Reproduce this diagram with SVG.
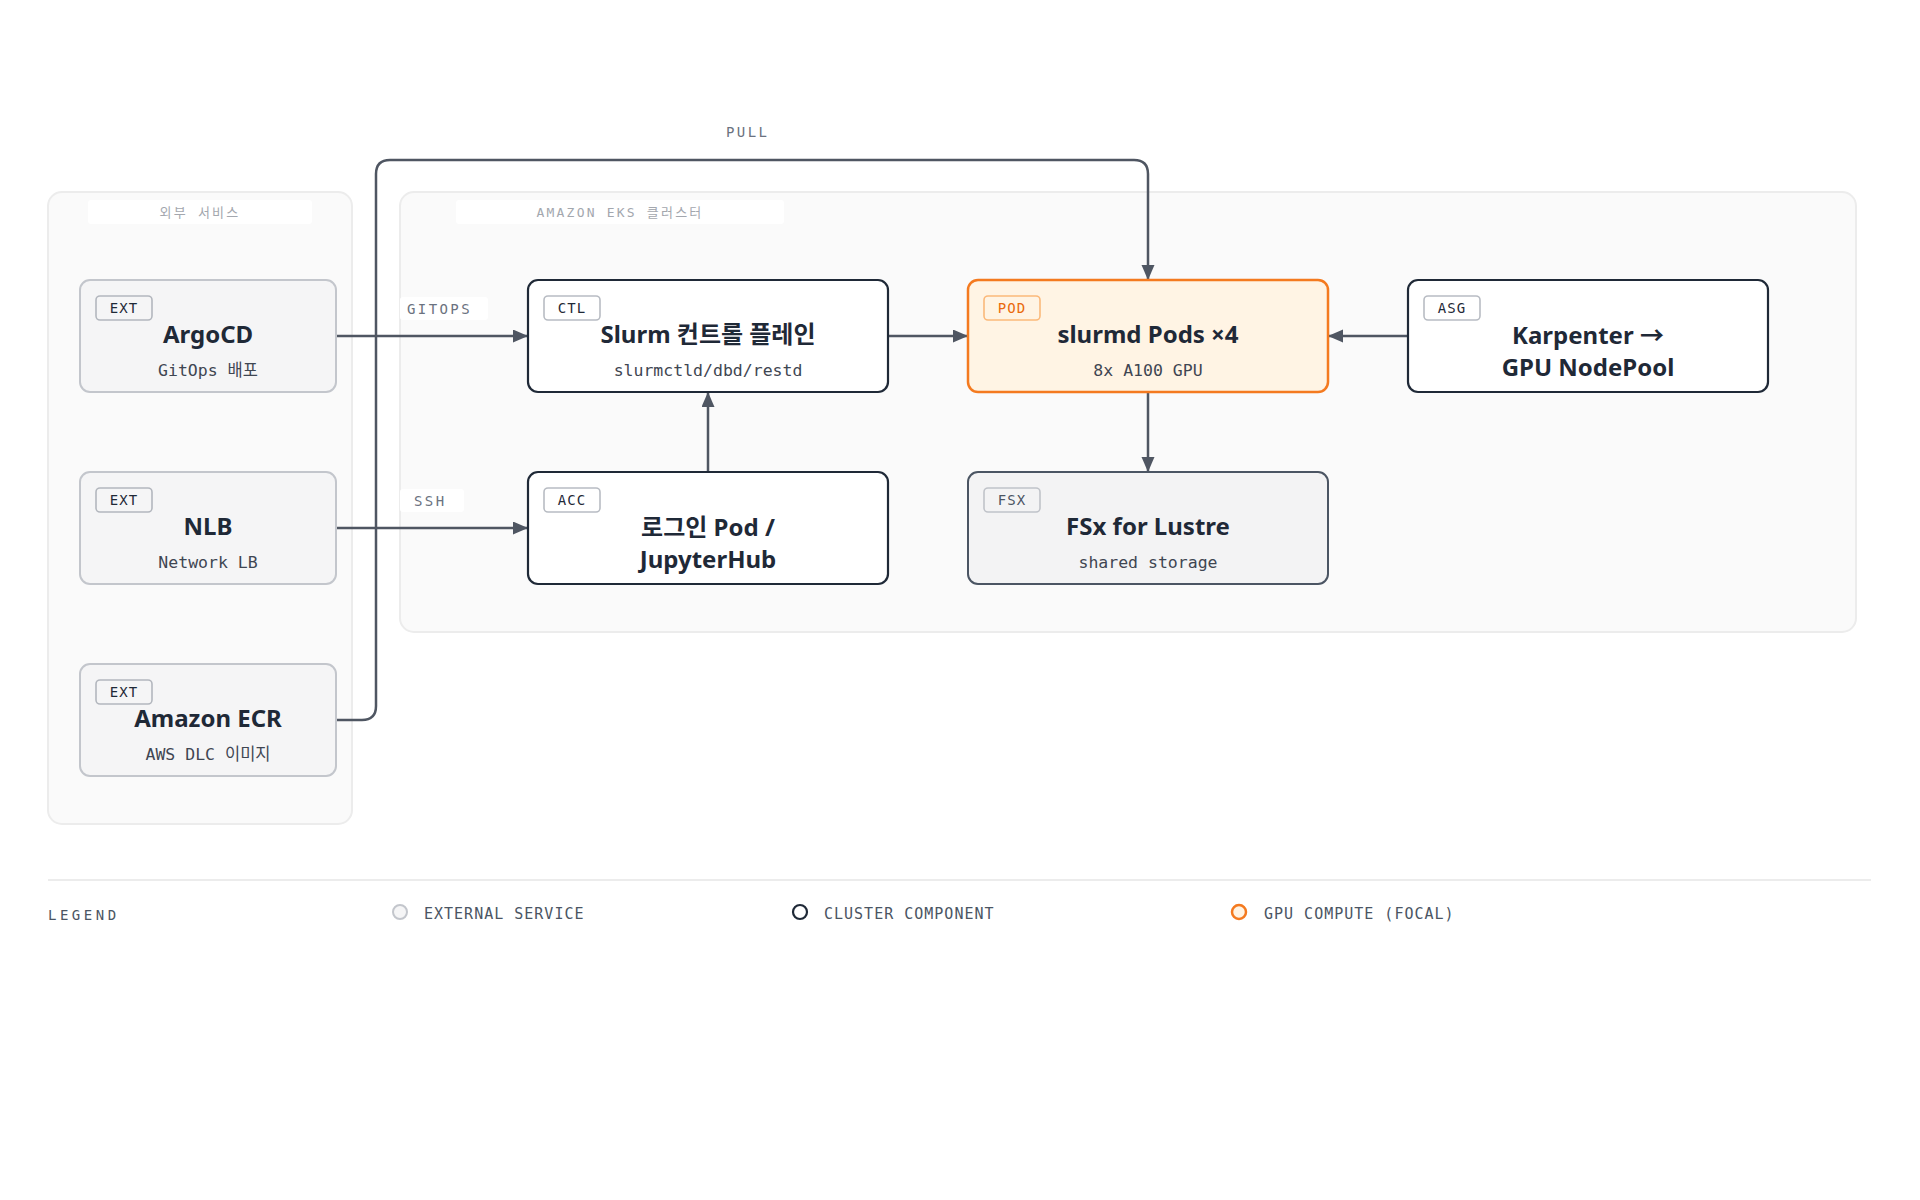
<svg xmlns="http://www.w3.org/2000/svg" width="1920" height="1200" viewBox="0 0 1920 1200">
<defs>
<style>
.grp{fill:#fafafa;stroke:#ececec;stroke-width:2}
.glbl-bg{fill:#ffffff}
.glbl{font-family:"DejaVu Sans Mono","Noto Sans CJK KR",monospace;font-size:13px;letter-spacing:2.2px;fill:#a3a7ae;text-anchor:middle}
.ext{fill:#f5f5f6;stroke:#c3c6cc;stroke-width:2}
.clu{fill:#ffffff;stroke:#1f2937;stroke-width:2.2}
.gpu{fill:#fff4e4;stroke:#f47a1f;stroke-width:2.5}
.fsx{fill:#f3f3f4;stroke:#4b5563;stroke-width:2}
.tag{fill:#ffffff;stroke:#b8bcc3;stroke-width:1.6}
.tag-ext{fill:#f5f5f6;stroke:#b3b7be;stroke-width:1.6}
.tag-pod{fill:#fff4e4;stroke:#fbb97a;stroke-width:1.6}
.tag-fsx{fill:#f3f3f4;stroke:#c0c3c9;stroke-width:1.6}
.tt{font-family:"DejaVu Sans Mono","Noto Sans CJK KR",monospace;font-size:14px;letter-spacing:1px;fill:#1f2937;text-anchor:middle}
.tt-pod{fill:#ea6a0c}
.tt-fsx{fill:#4b5563}
.title{font-family:"Noto Sans","Noto Sans CJK KR",sans-serif;font-size:24px;font-weight:700;fill:#1f2937;text-anchor:middle}
.sub{font-family:"DejaVu Sans Mono","Noto Sans CJK KR",monospace;font-size:16.5px;fill:#3f4652;text-anchor:middle}
.edge{fill:none;stroke:#4f5662;stroke-width:2.5}
.elbl{font-family:"DejaVu Sans Mono",monospace;font-size:14px;letter-spacing:2.4px;fill:#6b7280}
.elbl-bg{fill:#ffffff}
.leg{font-family:"DejaVu Sans Mono",monospace;font-size:15px;letter-spacing:1px;fill:#4b5563}
.legh{font-family:"DejaVu Sans Mono",monospace;font-size:14px;letter-spacing:3.5px;fill:#4b5563}
</style>
<marker id="arr" markerUnits="userSpaceOnUse" markerWidth="16" markerHeight="14" refX="15" refY="6.5" orient="auto">
<path d="M0,0 L15,6.5 L0,13 z" fill="#4f5662"/>
</marker>
</defs>
<rect width="1920" height="1200" fill="#ffffff"/>

<g id="group-external">
<rect class="grp" x="48" y="192" width="304" height="632" rx="14"/>
<rect class="glbl-bg" x="88" y="200" width="224" height="24" rx="3"/>
<text class="glbl" x="200" y="217">외부 서비스</text>
</g>
<g id="group-eks">
<rect class="grp" x="400" y="192" width="1456" height="440" rx="14"/>
<rect class="glbl-bg" x="456" y="200" width="328" height="24" rx="3"/>
<text class="glbl" x="620" y="217">AMAZON EKS 클러스터</text>
</g>

<g id="connectors">
<path class="edge" d="M336,336 L528,336" marker-end="url(#arr)"/>
<path class="edge" d="M336,528 L528,528" marker-end="url(#arr)"/>
<path class="edge" d="M336,720 L362,720 Q376,720 376,706 L376,174 Q376,160 390,160 L1134,160 Q1148,160 1148,174 L1148,280" marker-end="url(#arr)"/>
<path class="edge" d="M888,336 L968,336" marker-end="url(#arr)"/>
<path class="edge" d="M1408,336 L1328,336" marker-end="url(#arr)"/>
<path class="edge" d="M708,472 L708,392" marker-end="url(#arr)"/>
<path class="edge" d="M1148,392 L1148,472" marker-end="url(#arr)"/>
<rect class="elbl-bg" x="400" y="297" width="88" height="23" rx="3"/>
<text class="elbl" x="407" y="314">GITOPS</text>
<rect class="elbl-bg" x="400" y="489" width="64" height="23" rx="3"/>
<text class="elbl" x="414" y="506">SSH</text>
<text class="elbl" x="726" y="137">PULL</text>
</g>

<g id="node-argocd">
<rect class="ext" x="80" y="280" width="256" height="112" rx="10"/>
<rect class="tag-ext" x="96" y="296" width="56" height="24" rx="4"/>
<text class="tt" x="124" y="313">EXT</text>
<text class="title" x="208" y="343">ArgoCD</text>
<text class="sub" x="208" y="376">GitOps 배포</text>
</g>
<g id="node-nlb">
<rect class="ext" x="80" y="472" width="256" height="112" rx="10"/>
<rect class="tag-ext" x="96" y="488" width="56" height="24" rx="4"/>
<text class="tt" x="124" y="505">EXT</text>
<text class="title" x="208" y="535">NLB</text>
<text class="sub" x="208" y="568">Network LB</text>
</g>
<g id="node-ecr">
<rect class="ext" x="80" y="664" width="256" height="112" rx="10"/>
<rect class="tag-ext" x="96" y="680" width="56" height="24" rx="4"/>
<text class="tt" x="124" y="697">EXT</text>
<text class="title" x="208" y="727">Amazon ECR</text>
<text class="sub" x="208" y="760">AWS DLC 이미지</text>
</g>
<g id="node-slurm-ctl">
<rect class="clu" x="528" y="280" width="360" height="112" rx="10"/>
<rect class="tag" x="544" y="296" width="56" height="24" rx="4"/>
<text class="tt" x="572" y="313">CTL</text>
<text class="title" x="708" y="343">Slurm 컨트롤 플레인</text>
<text class="sub" x="708" y="376">slurmctld/dbd/restd</text>
</g>
<g id="node-slurmd">
<rect class="gpu" x="968" y="280" width="360" height="112" rx="10"/>
<rect class="tag-pod" x="984" y="296" width="56" height="24" rx="4"/>
<text class="tt tt-pod" x="1012" y="313">POD</text>
<text class="title" x="1148" y="343">slurmd Pods ×4</text>
<text class="sub" x="1148" y="376">8x A100 GPU</text>
</g>
<g id="node-karpenter">
<rect class="clu" x="1408" y="280" width="360" height="112" rx="10"/>
<rect class="tag" x="1424" y="296" width="56" height="24" rx="4"/>
<text class="tt" x="1452" y="313">ASG</text>
<text class="title" x="1588" y="344">Karpenter →</text>
<text class="title" x="1588" y="376">GPU NodePool</text>
</g>
<g id="node-login">
<rect class="clu" x="528" y="472" width="360" height="112" rx="10"/>
<rect class="tag" x="544" y="488" width="56" height="24" rx="4"/>
<text class="tt" x="572" y="505">ACC</text>
<text class="title" x="708" y="536">로그인 Pod /</text>
<text class="title" x="708" y="568">JupyterHub</text>
</g>
<g id="node-fsx">
<rect class="fsx" x="968" y="472" width="360" height="112" rx="10"/>
<rect class="tag-fsx" x="984" y="488" width="56" height="24" rx="4"/>
<text class="tt tt-fsx" x="1012" y="505">FSX</text>
<text class="title" x="1148" y="535">FSx for Lustre</text>
<text class="sub" x="1148" y="568">shared storage</text>
</g>

<g id="legend">
<line x1="48" y1="880" x2="1871" y2="880" stroke="#ececec" stroke-width="2"/>
<text class="legh" x="48" y="920">LEGEND</text>
<circle cx="400" cy="912" r="7" fill="#f5f5f6" stroke="#c3c6cc" stroke-width="2"/>
<text class="leg" x="424" y="919">EXTERNAL SERVICE</text>
<circle cx="800" cy="912" r="7" fill="#ffffff" stroke="#1f2937" stroke-width="2.2"/>
<text class="leg" x="824" y="919">CLUSTER COMPONENT</text>
<circle cx="1239" cy="912" r="7" fill="#fff4e4" stroke="#f47a1f" stroke-width="2.5"/>
<text class="leg" x="1264" y="919">GPU COMPUTE (FOCAL)</text>
</g>
</svg>
